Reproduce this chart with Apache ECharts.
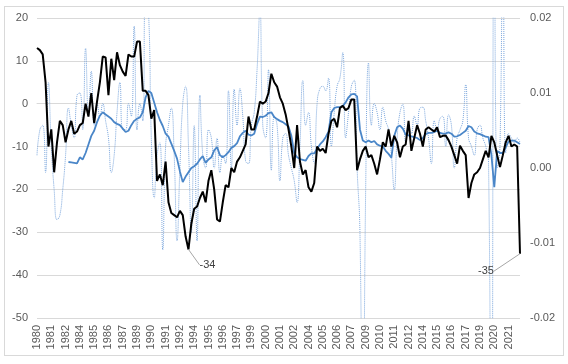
<!DOCTYPE html>
<html><head><meta charset="utf-8">
<script src="https://cdn.jsdelivr.net/npm/echarts@6/dist/echarts.min.js"></script>
<style>
html,body{margin:0;padding:0;background:#fff;}
#frame{position:absolute;left:4px;top:6px;width:558px;height:348px;border:1px solid #d9d9d9;}
#c{position:absolute;left:0;top:0;width:568px;height:364px;}
</style></head>
<body><div id="frame"></div><div id="c"></div>
<script>
// quarterly observations starting 1980Q2 (170 quarters)
const startYear = 1980, startQuarter = 2, nQuarters = 170;

// black line (left axis)
const seriesBlack = [
13,12.5,11.5,5,-10,-6,-16,-9,-4,-5,
-9,-6,-4,-7,-6.5,-5,-4.5,0,-3,2.5,
-4.5,0.5,5,11,10.8,2,10.5,5.5,12,9,
7.5,6.5,11.5,11,11,14.5,14.5,3,3,2,
-3.5,-1.5,-18,-16.5,-19,-13.5,-23,-25.5,-26,-26.5,
-25,-26,-31,-34,-28,-24.5,-24,-22,-20.5,-23,
-18,-15.5,-20,-27,-27.5,-23,-19,-19.5,-15,-16,
-13.5,-12.5,-11,-9.5,-3,-6,-6,-3,0.5,0,
0.5,2.5,7,5,4,1.5,0,-2.5,-6,-10,
-15,-5,-13.5,-16.5,-15.5,-19.5,-20.5,-18.5,-10,-11,
-10.5,-11.5,-7,-4,-3.5,-5.5,-1,-0.5,-1.5,-1,
1,1,-15.5,-13,-11,-10,-12.5,-12,-14,-16.5,
-13,-9,-10,-6,-10,-7.5,-9,-12.5,-10,-9.5,
-4,-11,-8,-5,-7,-10,-6,-5.5,-6,-6.5,
-5.5,-7.8,-7.5,-7.4,-8.5,-10,-12,-14,-9.8,-11,
-12,-22,-18.5,-16.5,-16,-15,-13,-11,-12.5,-7.5,
-9,-12,-14.8,-12,-9,-7.5,-10,-9.5,-10,-35
];

// medium blue line (left axis), starts later
const seriesBlue = [
null,null,null,null,null,null,null,null,null,null,
null,-13.6,-13.7,-13.8,-13.9,-12.5,-13,-11.5,-9.5,-7.5,
-6.3,-4.3,-2.8,-2,-2.5,-3,-3.5,-4.3,-4.7,-5,
-5.8,-6.6,-6.3,-5,-4,-3.5,-3.2,-2,1.5,3,
2.5,0.3,-2,-3.8,-5.2,-7,-7.7,-9.3,-11,-12.8,
-15.8,-18.3,-17,-16,-15,-14.6,-14,-13,-12.2,-13.8,
-13,-12.5,-10.9,-10.1,-12,-12.5,-12,-11.3,-10.3,-9.9,
-9.2,-7.6,-6.8,-6.3,-7.2,-7.4,-7,-4.7,-3,-3.1,
-2.8,-2.2,-2,-3.1,-3.6,-4,-4.3,-4.8,-5.3,-7.5,
-11.5,-12.5,-12.9,-13.1,-13.3,-12.2,-11.6,-11.6,-10.5,-9.5,
-8.8,-7.8,-6.5,-2,-1,-0.8,-0.8,-0.5,0.3,1.5,
2.2,2.3,1.7,-6,-8.6,-9,-8.6,-9,-8.7,-9.5,
-9.8,-10,-11,-11.7,-12.6,-7.5,-5.5,-5.1,-5.8,-7.2,
-7.4,-7.6,-7.8,-8,-8.5,-8,-7.1,-6.8,-6.8,-6.6,
-6.3,-6.8,-7,-6.9,-6.7,-7,-7.7,-7.6,-7.3,-6.8,
-6.3,-5.2,-5.5,-6.5,-6.9,-7.1,-7.4,-7.7,-7.8,-12,
-19.5,-11,-11.5,-11.5,-10.2,-8.8,-8.6,-8.6,-9,-9.4
];

// light dotted line (right axis)
const seriesDotted = [
0.0017,0.0051,0.0057,-0.0006,0.0114,0.0029,-0.0029,-0.0069,-0.0063,-0.0029,
0.0017,0.0080,0.0057,0.0040,0.0097,0.0100,0.0051,0.0160,0.0069,0.0129,
0.0057,0.0086,0.0069,0.0086,0.0063,0.0040,-0.0006,0.0017,0.0074,0.0114,
0.0051,0.0051,0.0086,0.0069,0.0189,0.0051,0.0086,0.0063,0.0229,0.0211,
0.0040,-0.0040,0.0017,0.0034,-0.0109,0.0029,0.0057,0.0080,0.0017,-0.0097,
0.0000,0.0086,0.0109,0.0029,-0.0086,0.0057,-0.0097,0.0097,0.0017,0.0000,
0.0051,0.0040,0.0000,0.0040,-0.0006,0.0017,0.0006,0.0103,0.0000,0.0105,
0.0057,0.0106,0.0069,0.0009,0.0006,0.0057,0.0074,0.0131,0.0211,0.0057,
0.0040,0.0131,-0.0003,0.0069,0.0057,-0.0017,0.0040,0.0046,0.0017,0.0000,
-0.0017,-0.0046,0.0029,0.0117,0.0057,0.0074,0.0029,0.0006,0.0086,0.0106,
0.0109,0.0103,0.0120,0.0029,0.0074,0.0109,0.0120,0.0154,0.0040,0.0074,
0.0109,0.0117,0.0000,-0.0086,-0.0429,-0.0029,0.0140,0.0057,0.0086,0.0074,
0.0051,0.0081,0.0063,0.0051,0.0017,-0.0029,0.0040,0.0074,0.0085,0.0034,
0.0057,0.0046,0.0069,0.0057,0.0080,0.0081,0.0063,0.0040,0.0006,0.0063,
0.0051,0.0066,0.0069,0.0029,0.0071,0.0057,0.0000,0.0040,0.0051,0.0063,
0.0111,0.0040,0.0029,0.0017,0.0051,0.0057,0.0040,0.0029,0.0006,-0.0550,
0.0400,0.0000,0.0030,0.0350,0.0020,0.0046,0.0040,0.0034,0.0040,0.0034
];

// annotated points on the black line
const annotations = [{index: 53, text: '-34'}, {index: 169, text: '-35'}];

const categories = [];
{
  let y = startYear, q = startQuarter;
  for (let k = 0; k < nQuarters; k++) {
    categories.push(y + 'Q' + q);
    q++; if (q > 4) { q = 1; y++; }
  }
}

const FONT = "'Liberation Sans', Arial, sans-serif";
const chart = echarts.init(document.getElementById('c'), null, {renderer: 'canvas'});

const annIdx = annotations.map(a => a.index);
const blackData = seriesBlack.map((v, i) => {
  const a = annotations.find(x => x.index === i);
  if (!a) return v;
  return {
    value: v,
    label: {show: true, formatter: a.text, color: '#404040', fontSize: 11, fontFamily: FONT},
    labelLine: {show: true, lineStyle: {color: '#a6a6a6', width: 1}}
  };
});

chart.setOption({
  animation: false,
  backgroundColor: 'transparent',
  textStyle: {fontFamily: FONT},
  grid: {left: 37, right: 48, top: 18, bottom: 46, containLabel: false},
  xAxis: {
    type: 'category',
    data: categories,
    boundaryGap: false,
    axisLine: {show: true, lineStyle: {color: '#d9d9d9'}},
    axisTick: {show: false},
    splitLine: {show: false},
    axisLabel: {
      rotate: 90,
      interval: (idx) => idx % 5 === 0,
      formatter: (v) => v.slice(0, 4),
      color: '#595959', fontSize: 11, fontFamily: FONT, margin: 7
    }
  },
  yAxis: [
    {
      type: 'value', min: -50, max: 20, interval: 10,
      axisLine: {show: false}, axisTick: {show: false},
      splitLine: {lineStyle: {color: '#d9d9d9', width: 1}},
      axisLabel: {color: '#595959', fontSize: 11, fontFamily: FONT, margin: 9}
    },
    {
      type: 'value', min: -0.02, max: 0.02, interval: 0.01,
      axisLine: {show: false}, axisTick: {show: false},
      splitLine: {show: false},
      axisLabel: {color: '#595959', fontSize: 11, fontFamily: FONT, margin: 10,
        formatter: (v) => (Math.abs(v) < 1e-9 ? 0 : v).toFixed(2)}
    }
  ],
  series: [
    {
      type: 'line', yAxisIndex: 1, data: seriesDotted,
      smooth: true, showSymbol: false, symbol: 'none',
      lineStyle: {color: '#7ba6dc', width: 1, type: 'dotted'},
      z: 1
    },
    {
      type: 'line', yAxisIndex: 0, data: seriesBlue,
      showSymbol: false, symbol: 'none', connectNulls: false,
      lineStyle: {color: '#4a86c8', width: 1.8},
      z: 2
    },
    {
      type: 'line', yAxisIndex: 0, data: blackData,
      symbol: 'circle', symbolSize: 0.1, showSymbol: true, showAllSymbol: true,
      itemStyle: {color: '#000000'},
      lineStyle: {color: '#000000', width: 2},
      label: {show: false, color: '#404040', fontSize: 11, fontFamily: FONT},
      labelLine: {show: false},
      labelLayout: (p) => {
        if (p.dataIndex === annIdx[0]) return {dx: 19, dy: 26};
        if (p.dataIndex === annIdx[1]) return {dx: -34, dy: 28};
        return {};
      },
      z: 3
    }
  ]
});
</script></body></html>
